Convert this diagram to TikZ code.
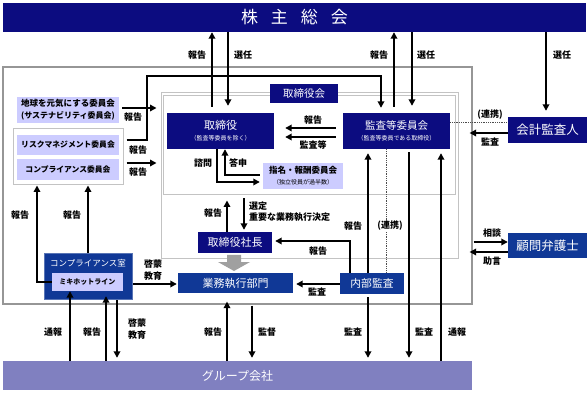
\documentclass[tikz,border=0pt]{standalone}
\usepackage{fontspec}
\setmainfont{Noto Sans CJK JP}
\usetikzlibrary{arrows.meta}
\definecolor{navy}{RGB}{12,12,128}
\definecolor{mblue}{RGB}{16,56,150}
\definecolor{lav}{RGB}{204,204,255}
\definecolor{grp}{RGB}{128,128,192}
\definecolor{frame}{RGB}{150,150,150}
\definecolor{lframe}{RGB}{195,195,195}
\definecolor{garrow}{RGB}{160,160,160}
\begin{document}
\begin{tikzpicture}[x=1pt,y=-1pt,
  arr/.style={line width=1.7pt,-{Triangle[length=6.5pt,width=6.5pt]}},
  dotline/.style={densely dotted,line width=0.8pt,black!70},
  lab/.style={font=\fontsize{9}{11}\selectfont\bfseries,inner sep=0,align=center},
  navybox/.style={fill=navy,text=white,inner sep=0,align=center},
  bluebox/.style={fill=mblue,text=white,inner sep=0,align=center},
  lavbox/.style={fill=lav,text=black,inner sep=0,align=center},
  framebox/.style={inner sep=0}]
\useasboundingbox (0,0) rectangle (587,393);
\fill[white] (0,0) rectangle (587,393);

% frames
\node[framebox,draw=frame,line width=1.2pt,minimum width=469,minimum height=237] (outer) at (237.5,185.5) {};
\node[framebox,draw=lframe,line width=1pt,minimum width=297,minimum height=166] (boardA) at (309.5,176) {};
\node[framebox,draw=lframe,line width=1pt,minimum width=292,minimum height=99] (boardB) at (309.5,145.5) {};
\node[framebox,draw=lframe,line width=1pt,fill=white,minimum width=110,minimum height=56] (group) at (68,157) {};

% top and bottom bars
\node[navybox,minimum width=583,minimum height=29,font=\fontsize{17}{17}\selectfont] (top) at (294.5,17.5) {株\hspace{13pt}主\hspace{13pt}総\hspace{13pt}会};
\node[fill=grp,text=white,inner sep=0,minimum width=469,minimum height=29,font=\fontsize{12}{12}\selectfont] (bottom) at (237.5,375.5) {グループ会社};

% boxes
\node[navybox,minimum width=68,minimum height=19,font=\fontsize{10.5}{11}\selectfont] (boardlabel) at (304,93.5) {取締役会};
\node[navybox,minimum width=107,minimum height=36] (torishimari) at (220.5,131) {{\fontsize{11}{13}\selectfont 取締役}\\[-1pt]{\fontsize{6}{7}\selectfont （監査等委員を除く）}};
\node[navybox,minimum width=107,minimum height=36] (kansa) at (396.5,131) {{\fontsize{10.5}{13}\selectfont 監査等委員会}\\[-1pt]{\fontsize{6}{7}\selectfont （監査等委員である取締役）}};
\node[lavbox,minimum width=80,minimum height=26] (shimei) at (303,176) {{\fontsize{8.5}{10}\selectfont\bfseries 指名・報酬委員会}\\[-1pt]{\fontsize{6}{7}\selectfont （独立役員が過半数）}};
\node[navybox,minimum width=79,minimum height=26,font=\fontsize{12.5}{13}\selectfont] (kaikei) at (547.5,130) {会計監査人};
\node[lavbox,minimum width=102,minimum height=26] (chikyu) at (68,110) {{\fontsize{8.5}{10.5}\selectfont\bfseries 地球を元気にする委員会}\\{\fontsize{8}{10.5}\selectfont\bfseries (サステナビリティ委員会)}};
\node[lavbox,minimum width=102,minimum height=20,font=\fontsize{7.8}{9}\selectfont\bfseries] (risk) at (68,145) {リスクマネジメント委員会};
\node[lavbox,minimum width=102,minimum height=21,font=\fontsize{7.8}{9}\selectfont\bfseries] (compcom) at (68,169.5) {コンプライアンス委員会};
\node[bluebox,draw=mblue!70,minimum width=88,minimum height=46] (compshitsu) at (88,276) {};
\node[text=white,inner sep=0,font=\fontsize{8.5}{9}\selectfont] (comptitle) at (88,263) {コンプライアンス室};
\node[lavbox,minimum width=71,minimum height=18,font=\fontsize{7}{8}\selectfont\bfseries] (miki) at (87.5,282) {ミキホットライン};
\node[bluebox,minimum width=115,minimum height=20,font=\fontsize{11}{12}\selectfont] (gyomu) at (235.5,283) {業務執行部門};
\node[navybox,minimum width=74,minimum height=21,font=\fontsize{11}{12}\selectfont] (shacho) at (235,242.5) {取締役社長};
\node[bluebox,minimum width=64,minimum height=21,font=\fontsize{10.8}{12}\selectfont] (naibu) at (372,283.5) {内部監査};
\node[bluebox,minimum width=79,minimum height=25,font=\fontsize{12.5}{13}\selectfont] (komon) at (547.5,245.5) {顧問弁護士};

% gray arrow
\fill[garrow] (227,255) -- (241,255) -- (241,262) -- (250,262) -- (234,271) -- (218,262) -- (227,262) -- cycle;

% connectors: shareholders
\draw[arr,shorten <=6pt] (212,0 |- torishimari.north) -- (212,0 |- top.south);
\draw[arr,shorten >=7pt] (228,0 |- top.south) -- (228,0 |- torishimari.north);
\draw[arr,shorten <=6pt] (394,0 |- kansa.north) -- (394,0 |- top.south);
\draw[arr,shorten >=7pt] (412,0 |- top.south) -- (412,0 |- kansa.north);
\draw[arr,shorten >=6pt] (546,0 |- top.south) -- (546,0 |- kaikei.north);

% auditor
\draw[dotline] (kansa.east |- 0,122) -- (kaikei.west |- 0,122);
\draw[arr,shorten >=-3pt] (kaikei.west |- 0,133) -- (outer.east |- 0,133);

% kansa -> torishimari
\draw[arr,shorten <=7pt,shorten >=11pt] (kansa.west |- 0,128) -- (torishimari.east |- 0,128);
\draw[arr,shorten <=7pt,shorten >=11pt] (kansa.west |- 0,137) -- (torishimari.east |- 0,137);

% shimei
\draw[arr,shorten >=3pt] (217,0 |- torishimari.south) -- (217,182) -- (shimei.west |- 0,182);
\draw[arr,shorten <=3pt] (shimei.west |- 0,175) -- (225,175) -- (225,0 |- torishimari.south);

% committees
\draw[arr,shorten <=3pt,shorten >=4pt] (chikyu.east |- 0,108) -- (boardA.west |- 0,108);
\draw[arr,shorten <=3pt,shorten >=5pt] (group.east |- 0,140) -- (147,140) -- (147,76) -- (381,76) -- (381,0 |- kansa.north);
\draw[arr,shorten <=3pt,shorten >=4pt] (group.east |- 0,163) -- (boardA.west |- 0,163);
\draw[arr] (miki.west) -- (37,0 |- miki.west) -- (37,0 |- group.south);
\draw[arr] (compshitsu.north) -- (group.south -| compshitsu.north);

% compliance -> gyomu
\draw[arr,shorten <=1pt,shorten >=1pt] (compshitsu.east |- 0,284) -- (gyomu.west |- 0,284);

% shacho
\draw[arr,shorten >=5pt] (227,0 |- shacho.north) -- (227,0 |- boardB.south);
\draw[arr,shorten <=3pt,shorten >=2pt] (244,0 |- boardB.south) -- (244,0 |- shacho.north);

% internal audit
\draw[arr,shorten >=3pt] (350,0 |- naibu.north) -- (350,241) -- (shacho.east |- 0,241);
\draw[arr,shorten >=3pt] (naibu.west |- 0,284) -- (gyomu.east |- 0,284);
\draw[arr,shorten >=4pt] (368,0 |- naibu.north) -- (368,0 |- kansa.south);
\draw[dotline] (386,0 |- kansa.south) -- (386,0 |- naibu.north);
\draw[arr,shorten <=3pt,shorten >=3pt] (409,0 |- kansa.south) -- (409,0 |- bottom.north);
\draw[arr,shorten >=4pt] (441,0 |- bottom.north) -- (441,0 |- kansa.south);
\draw[arr,shorten <=3pt,shorten >=3pt] (368,0 |- naibu.south) -- (368,0 |- bottom.north);

% group companies
\draw[arr,shorten >=-3pt] (227,0 |- bottom.north) -- (227,0 |- outer.south);
\draw[arr,shorten <=1pt,shorten >=3pt] (252,0 |- outer.south) -- (252,0 |- bottom.north);
\draw[arr] (70,0 |- bottom.north) -- (70,0 |- miki.south);
\draw[arr,shorten >=-3pt] (106,0 |- bottom.north) -- (106,0 |- compshitsu.south);
\draw[arr,shorten <=1pt,shorten >=3pt] (117,0 |- compshitsu.south) -- (117,0 |- bottom.north);

% lawyer
\draw[arr,shorten <=1pt] (outer.east |- 0,242) -- (komon.west |- 0,242);
\draw[arr,shorten >=-3pt] (komon.west |- 0,252) -- (outer.east |- 0,252);

% labels
\node[lab] (l1) at (197,55) {報告};
\node[lab] (l2) at (243,55) {選任};
\node[lab] (l3) at (379,55) {報告};
\node[lab] (l4) at (426,55) {選任};
\node[lab] (l5) at (562,55) {選任};
\node[lab] (l6) at (490,115) {(連携)};
\node[lab] (l7) at (490,142) {監査};
\node[lab] (l8) at (313,120) {報告};
\node[lab] (l9) at (313,145) {監査等};
\node[lab] (l10) at (203,163) {諮問};
\node[lab] (l11) at (238,163) {答申};
\node[lab] (l12) at (133,117) {報告};
\node[lab] (l13) at (138,150) {報告};
\node[lab] (l14) at (138,172) {報告};
\node[lab] (l15) at (20,215) {報告};
\node[lab] (l16) at (72,215) {報告};
\node[lab,font=\fontsize{9}{12.5}\selectfont\bfseries] (l17) at (153,270) {啓蒙\\教育};
\node[lab] (l18) at (213,213) {報告};
\node[lab,anchor=west,align=left] (l19) at (249,211.5) {選定\\重要な業務執行決定};
\node[lab] (l20) at (318,251) {報告};
\node[lab] (l21) at (317,292) {監査};
\node[lab] (l22) at (353,226) {報告};
\node[lab,fill=white,inner sep=1pt] (l23) at (390,226) {(連携)};
\node[lab] (l24) at (53,332) {通報};
\node[lab] (l25) at (92,332) {報告};
\node[lab,font=\fontsize{9}{12}\selectfont\bfseries] (l26) at (137,329) {啓蒙\\教育};
\node[lab] (l27) at (213,332) {報告};
\node[lab] (l28) at (267,332) {監督};
\node[lab] (l29) at (353,332) {監査};
\node[lab] (l30) at (424,332) {監査};
\node[lab] (l31) at (457,332) {通報};
\node[lab] (l32) at (492,233) {相談};
\node[lab] (l33) at (492,261) {助言};
\end{tikzpicture}
\end{document}
